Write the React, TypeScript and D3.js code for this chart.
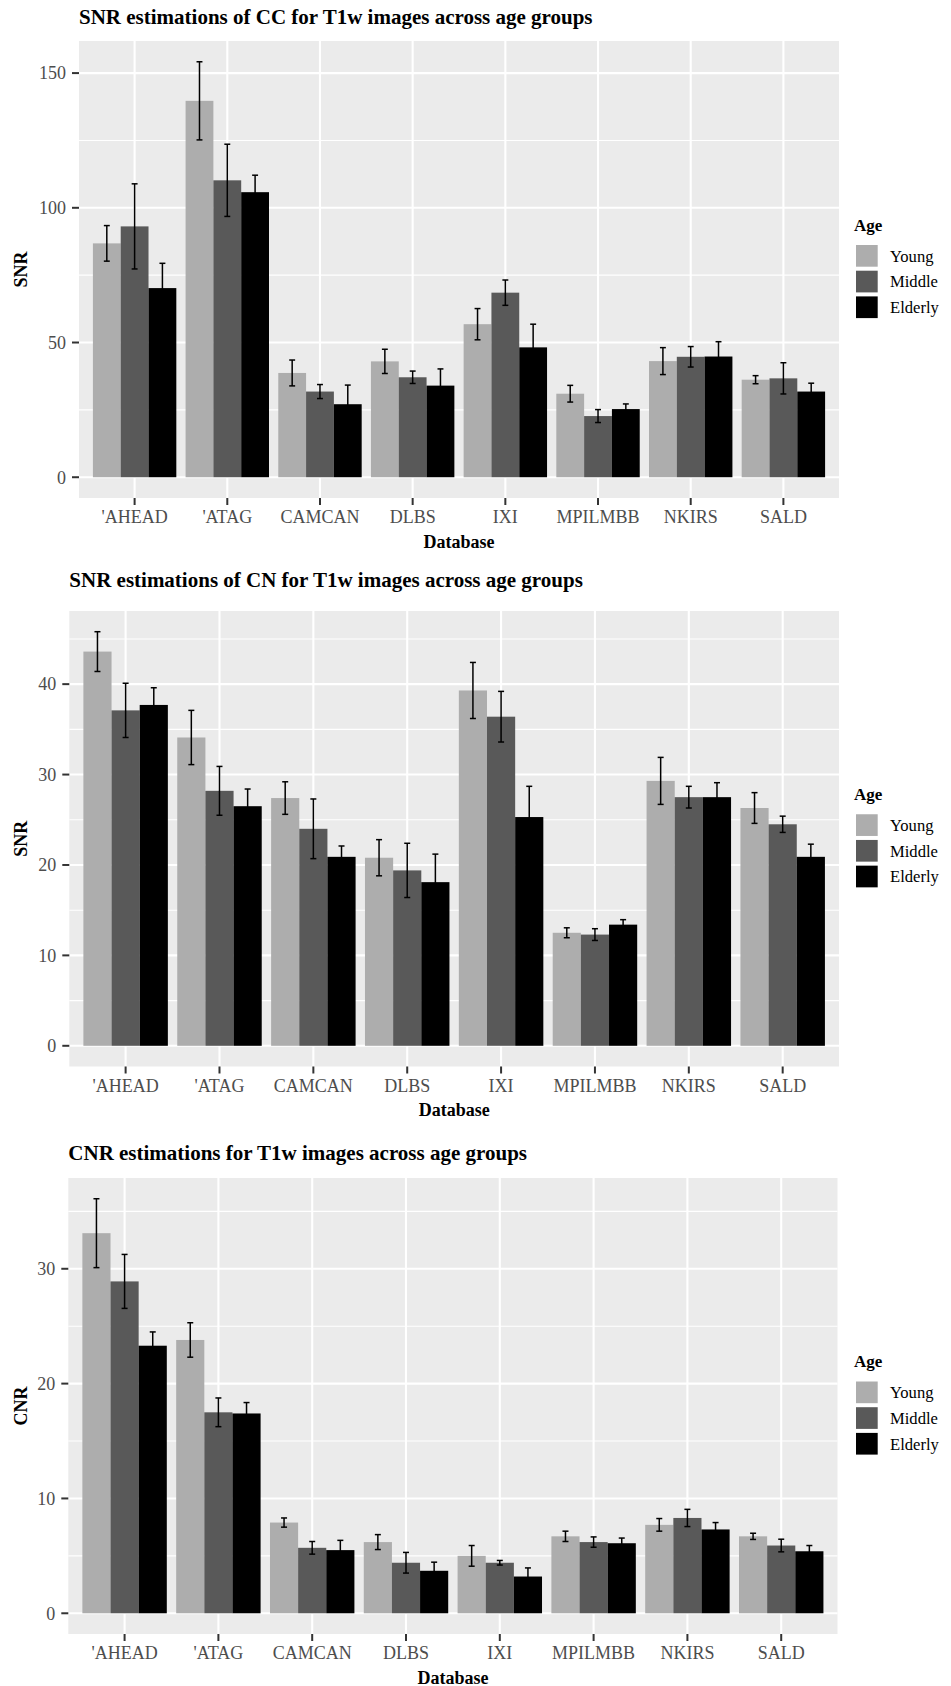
import React from 'react';
import * as d3 from 'd3';

// categories
const databases = ["'AHEAD", "'ATAG", 'CAMCAN', 'DLBS', 'IXI', 'MPILMBB', 'NKIRS', 'SALD'];
const ageGroups = ['Young', 'Middle', 'Elderly'];
const ageColors = ['#ADADAD', '#595959', '#000000'];

// SNR of CC (rows: Young, Middle, Elderly)
const snrCcMean = [
  [86.8, 139.7, 38.7, 43.0, 56.8, 31.0, 43.1, 36.2],
  [93.1, 110.2, 31.8, 37.1, 68.5, 22.7, 44.7, 36.7],
  [70.2, 105.8, 27.1, 34.0, 48.2, 25.3, 44.8, 31.8],
];
const snrCcErr = [
  [6.6, 14.5, 4.8, 4.5, 5.8, 3.1, 5.0, 1.5],
  [15.8, 13.4, 2.6, 2.3, 4.7, 2.4, 3.8, 5.8],
  [9.2, 6.3, 7.1, 6.2, 8.6, 1.9, 5.5, 3.1],
];
const snrCcTicks = [0, 50, 100, 150];
const snrCcMinor = [25, 75, 125];

// SNR of CN
const snrCnMean = [
  [43.6, 34.1, 27.4, 20.8, 39.3, 12.5, 29.3, 26.3],
  [37.1, 28.2, 24.0, 19.4, 36.4, 12.3, 27.5, 24.5],
  [37.7, 26.5, 20.9, 18.1, 25.3, 13.4, 27.5, 20.9],
];
const snrCnErr = [
  [2.2, 3.0, 1.8, 2.0, 3.1, 0.55, 2.6, 1.7],
  [3.0, 2.7, 3.3, 3.0, 2.8, 0.65, 1.2, 0.9],
  [1.9, 1.9, 1.2, 3.1, 3.4, 0.55, 1.6, 1.4],
];
const snrCnTicks = [0, 10, 20, 30, 40];
const snrCnMinor = [5, 15, 25, 35, 45];

// CNR
const cnrMean = [
  [33.1, 23.8, 7.9, 6.2, 5.0, 6.7, 7.7, 6.7],
  [28.9, 17.5, 5.7, 4.4, 4.4, 6.2, 8.3, 5.9],
  [23.3, 17.4, 5.5, 3.7, 3.2, 6.1, 7.3, 5.4],
];
const cnrErr = [
  [3.0, 1.5, 0.4, 0.65, 0.9, 0.45, 0.55, 0.27],
  [2.35, 1.25, 0.55, 0.9, 0.2, 0.45, 0.75, 0.55],
  [1.2, 0.95, 0.85, 0.75, 0.75, 0.45, 0.6, 0.5],
];
const cnrTicks = [0, 10, 20, 30];
const cnrMinor = [5, 15, 25, 35];

const FONT = '"Liberation Serif", "Times New Roman", serif';

const panels = [
  {
    title: 'SNR estimations of CC for T1w images across age groups',
    yLabel: 'SNR', mean: snrCcMean, err: snrCcErr, ticks: snrCcTicks, minor: snrCcMinor,
    left: 79, right: 839, top: 41, bottom: 498, titleY: 23.5,
  },
  {
    title: 'SNR estimations of CN for T1w images across age groups',
    yLabel: 'SNR', mean: snrCnMean, err: snrCnErr, ticks: snrCnTicks, minor: snrCnMinor,
    left: 69.3, right: 839, top: 611, bottom: 1066.5, titleY: 587,
  },
  {
    title: 'CNR estimations for T1w images across age groups',
    yLabel: 'CNR', mean: cnrMean, err: cnrErr, ticks: cnrTicks, minor: cnrMinor,
    left: 68.3, right: 837.5, top: 1178, bottom: 1634, titleY: 1160,
  },
];

const Panel = ({ p }) => {
  const { left, right, top, bottom } = p;
  const x = d3.scaleBand().domain(databases).range([left, right]).paddingInner(0).paddingOuter(0.1);
  const step = x.step();
  const dodge = d3.scaleBand().domain(ageGroups).range([-0.45 * step, 0.45 * step]);
  const maxV = d3.max(p.mean.flatMap((row, g) => row.map((v, i) => v + p.err[g][i])));
  const y = d3.scaleLinear().domain([-0.05 * maxV, maxV * 1.05]).range([bottom, top]);
  const cx = (d) => x(d) + step / 2;
  const cap = 0.032 * step;
  const midY = (top + bottom) / 2;

  return (
    <g>
      <text x={left} y={p.titleY} fontFamily={FONT} fontWeight="bold" fontSize={21} fill="#000">
        {p.title}
      </text>
      <rect x={left} y={top} width={right - left} height={bottom - top} fill="#EBEBEB" />
      {p.minor.map((t) => (
        <line key={'mi' + t} x1={left} x2={right} y1={y(t)} y2={y(t)} stroke="#fff" strokeWidth={1.1} />
      ))}
      {p.ticks.map((t) => (
        <line key={'ma' + t} x1={left} x2={right} y1={y(t)} y2={y(t)} stroke="#fff" strokeWidth={2.1} />
      ))}
      {databases.map((d) => (
        <line key={'vx' + d} x1={cx(d)} x2={cx(d)} y1={top} y2={bottom} stroke="#fff" strokeWidth={2.1} />
      ))}
      {ageGroups.map((a, g) =>
        databases.map((d, i) => {
          const v = p.mean[g][i];
          return (
            <rect key={a + d} x={cx(d) + dodge(a)} y={y(v)} width={dodge.bandwidth()}
              height={y(0) - y(v)} fill={ageColors[g]} />
          );
        })
      )}
      {ageGroups.map((a, g) =>
        databases.map((d, i) => {
          const v = p.mean[g][i];
          const e = p.err[g][i];
          const ex = cx(d) + dodge(a) + dodge.bandwidth() / 2;
          return (
            <g key={'e' + a + d} stroke="#000" strokeWidth={1.5}>
              <line x1={ex} x2={ex} y1={y(v + e)} y2={y(v - e)} />
              <line x1={ex - cap} x2={ex + cap} y1={y(v + e)} y2={y(v + e)} />
              <line x1={ex - cap} x2={ex + cap} y1={y(v - e)} y2={y(v - e)} />
            </g>
          );
        })
      )}
      {p.ticks.map((t) => (
        <g key={'yt' + t}>
          <line x1={left - 7} x2={left} y1={y(t)} y2={y(t)} stroke="#333" strokeWidth={2} />
          <text x={left - 13} y={y(t)} dy="0.35em" textAnchor="end" fontFamily={FONT} fontSize={18} fill="#4D4D4D">
            {t}
          </text>
        </g>
      ))}
      {databases.map((d) => (
        <g key={'xt' + d}>
          <line x1={cx(d)} x2={cx(d)} y1={bottom} y2={bottom + 7} stroke="#333" strokeWidth={2} />
          <text x={cx(d)} y={bottom + 25} textAnchor="middle" fontFamily={FONT} fontSize={18} fill="#4D4D4D">
            {d}
          </text>
        </g>
      ))}
      <text x={(left + right) / 2} y={bottom + 49.5} textAnchor="middle" fontFamily={FONT}
        fontWeight="bold" fontSize={18} fill="#000">
        Database
      </text>
      <text transform={`translate(27,${midY}) rotate(-90)`} textAnchor="middle" fontFamily={FONT}
        fontWeight="bold" fontSize={18} fill="#000">
        {p.yLabel}
      </text>
      {/* legend */}
      <text x={854} y={midY - 38.8} fontFamily={FONT} fontWeight="bold" fontSize={17} fill="#000">
        Age
      </text>
      {ageGroups.map((a, g) => (
        <g key={'lg' + a}>
          <rect x={856} y={midY - 24.5 + g * 25.7} width={21.7} height={21.7} fill={ageColors[g]} />
          <text x={890} y={midY - 24.5 + g * 25.7 + 10.85} dy="0.35em" fontFamily={FONT} fontSize={16.6} fill="#000">
            {a}
          </text>
        </g>
      ))}
    </g>
  );
};

export default function App() {
  return (
    <div style={{ position: 'absolute', left: 0, top: 0, background: '#fff' }}>
      <svg width={951} height={1686} viewBox="0 0 951 1686" style={{ display: 'block' }}>
        <rect width={951} height={1686} fill="#fff" />
        {panels.map((p) => (
          <Panel key={p.title} p={p} />
        ))}
      </svg>
    </div>
  );
}
